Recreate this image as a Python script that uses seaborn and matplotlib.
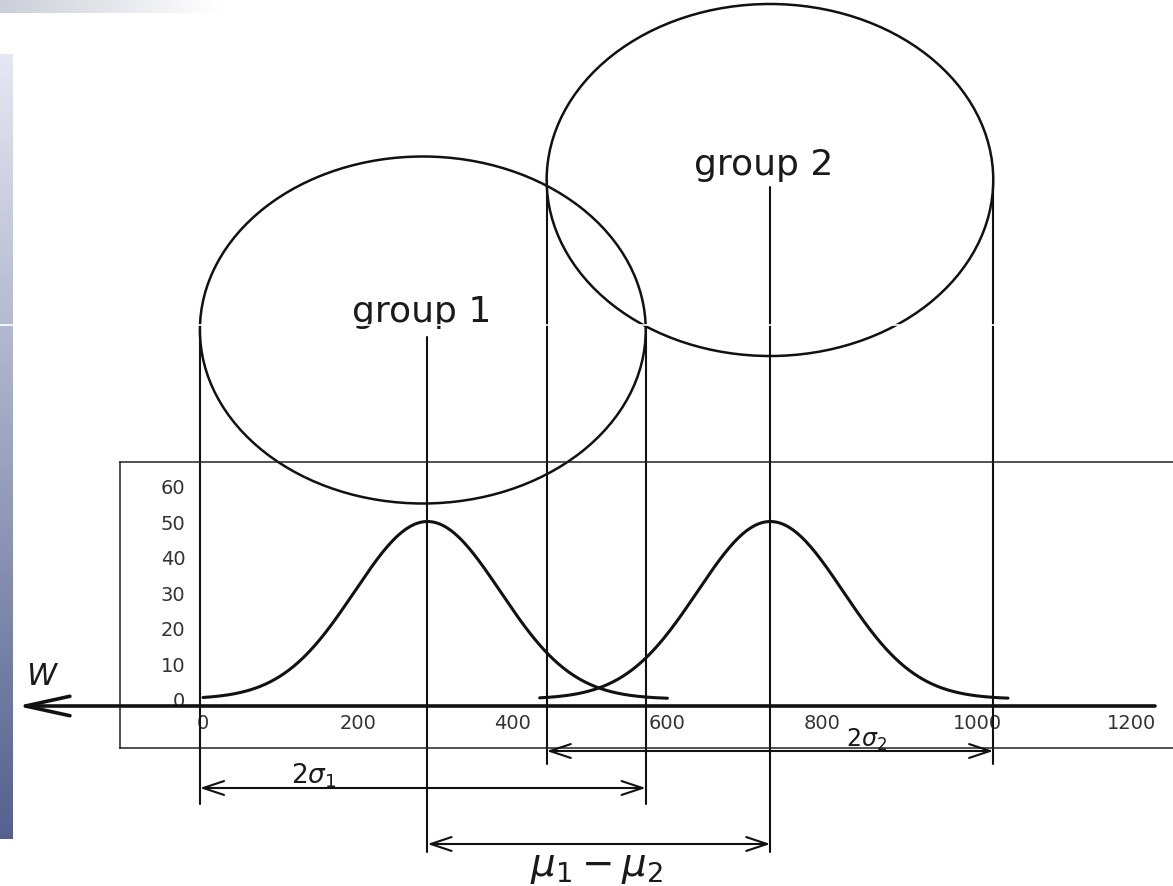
import numpy as np
import pandas as pd
import matplotlib
matplotlib.use('Agg')
import matplotlib.pyplot as plt
from matplotlib.patches import Ellipse
from matplotlib.lines import Line2D
import seaborn as sns

# values (W units on x, density on y)
groups = ['group 1', 'group 2']
means = [290, 733]
sds = [94, 94]
peaks = [50, 50]
curve_start = [0, 435]
curve_end = [600, 1040]
circle_left = [-4, 444]
circle_right = [572, 1021]
x_ticks = [0, 200, 400, 600, 800, 1000, 1200]
y_ticks = [0, 10, 20, 30, 40, 50, 60]

# normal curves from the read parameters
rows = []
for g, m, s, p, a, b in zip(groups, means, sds, peaks, curve_start, curve_end):
    w = np.linspace(a, b, 300)
    rows.append(pd.DataFrame({'W': w, 'density': p * np.exp(-(w - m) ** 2 / (2 * s ** 2)), 'group': g}))
curves = pd.concat(rows, ignore_index=True)

# layout: pixel <-> data mapping of the reference image
FIG_W, FIG_H = 1173, 887
X0, PXW = 203, 0.774
Y0, PXD = 700, 3.55


def to_w(px):
    return (px - X0) / PXW


def to_d(py):
    return (Y0 - py) / PXD


sns.set_theme(style='white')
plt.rcParams['font.family'] = ['DejaVu Sans']
plt.rcParams['mathtext.fontset'] = 'dejavusans'

fig = plt.figure(figsize=(FIG_W / 100, FIG_H / 100), dpi=100, facecolor='white')

# slide leftovers: bluish strip at the left edge, grey smear at top-left
strip = fig.add_axes([0, 1 - 840 / FIG_H, 12 / FIG_W, (840 - 55) / FIG_H])
grad = np.linspace(0, 1, 256)[:, None]
top_c, bot_c = np.array([0.90, 0.91, 0.95]), np.array([0.33, 0.38, 0.56])
strip.imshow(top_c + grad[..., None] * (bot_c - top_c), aspect='auto')
strip.axis('off')
smear = fig.add_axes([0, 1 - 14 / FIG_H, 220 / FIG_W, 14 / FIG_H])
hg = np.linspace(0, 1, 256)[None, :]
smear.imshow(np.array([0.80, 0.81, 0.85]) + hg[..., None] * (np.array([1, 1, 1]) - np.array([0.80, 0.81, 0.85])),
             aspect='auto')
smear.axis('off')

# frame axes holding the density curves
ax = fig.add_axes([120 / FIG_W, 1 - 749 / FIG_H, (1200 - 120) / FIG_W, (749 - 463) / FIG_H])
ax.set_xlim(to_w(120), to_w(1200))
ax.set_ylim(to_d(749), to_d(463))
ax.set_facecolor('none')

sns.lineplot(data=curves, x='W', y='density', hue='group', palette=['#111111', '#111111'],
             legend=False, lw=2.2, ax=ax, sort=False)

ax.set_xticks(x_ticks)
ax.set_yticks(y_ticks)
ax.tick_params(axis='x', length=0, pad=-25, labelsize=14, labelcolor='#333333')
ax.tick_params(axis='y', length=0, pad=-47, labelsize=14, labelcolor='#333333')
ax.set_xlabel('')
ax.set_ylabel('')
for side in ['top', 'left', 'bottom']:
    ax.spines[side].set_linewidth(1.1)
    ax.spines[side].set_color('#222222')
ax.spines['right'].set_visible(False)

line_kw = dict(color='#111111', lw=1.5, clip_on=False)

# circles (drawn as the squashed ellipses of the picture)
circle_mid = [to_d(331), to_d(181)]
circle_half = [173.5 / PXD, 176 / PXD]
edge_bottom = [to_d(805), to_d(765)]
for l, r, cy, hh in zip(circle_left, circle_right, circle_mid, circle_half):
    ax.add_patch(Ellipse(((l + r) / 2, cy), r - l, 2 * hh, fill=False, ec='#111111', lw=1.8, clip_on=False))
for l, r, cy, yb in zip(circle_left, circle_right, circle_mid, edge_bottom):
    ax.plot([l, l], [cy, yb], **line_kw)
    ax.plot([r, r], [cy, yb], **line_kw)

# mean lines and group labels
label_base = [to_d(322), to_d(175)]
mean_top = [to_d(338), to_d(188)]
for g, m, lb, mt in zip(groups, means, label_base, mean_top):
    ax.text(m - 8, lb, g, ha='center', va='baseline', fontsize=26, color='#1a1a1a', clip_on=False)
    ax.plot([m, m], [mt, to_d(853)], **line_kw)

# W axis with arrow to the left
ax.annotate('', xy=(to_w(17), to_d(707)), xytext=(to_w(1155), to_d(707)),
            arrowprops=dict(arrowstyle='->,head_length=3.2,head_width=0.7', lw=2.6, color='#111111',
                            mutation_scale=10, shrinkA=0, shrinkB=0), annotation_clip=False)
ax.text(to_w(43), to_d(677), '$W$', ha='center', va='center', fontsize=22, color='#1a1a1a', clip_on=False)

# dimension arrows
dbl = dict(arrowstyle='<->,head_length=1.5,head_width=0.5', lw=1.5, color='#111111',
           mutation_scale=10, shrinkA=0, shrinkB=0)
ax.annotate('', xy=(circle_left[0], to_d(789)), xytext=(circle_right[0], to_d(789)),
            arrowprops=dbl, annotation_clip=False)
ax.annotate('', xy=(circle_left[1], to_d(752)), xytext=(circle_right[1], to_d(752)),
            arrowprops=dbl, annotation_clip=False)
ax.annotate('', xy=(means[0], to_d(845)), xytext=(means[1], to_d(845)),
            arrowprops=dbl, annotation_clip=False)
ax.text(to_w(314), to_d(776), r'$2\sigma_1$', ha='center', va='center', fontsize=19, color='#1a1a1a', clip_on=False)
ax.text(to_w(866), to_d(740), r'$2\sigma_2$', ha='center', va='center', fontsize=17, color='#1a1a1a', clip_on=False)
ax.text(to_w(596), to_d(867), r'$\mu_1 - \mu_2$', ha='center', va='center', fontsize=28, color='#1a1a1a',
        clip_on=False)

# thin white scan line across the slide
fig.add_artist(Line2D([0, 1], [1 - 326 / FIG_H] * 2, color='white', lw=1.2, transform=fig.transFigure, zorder=10))

fig.savefig('out.png', dpi=100, facecolor='white')
